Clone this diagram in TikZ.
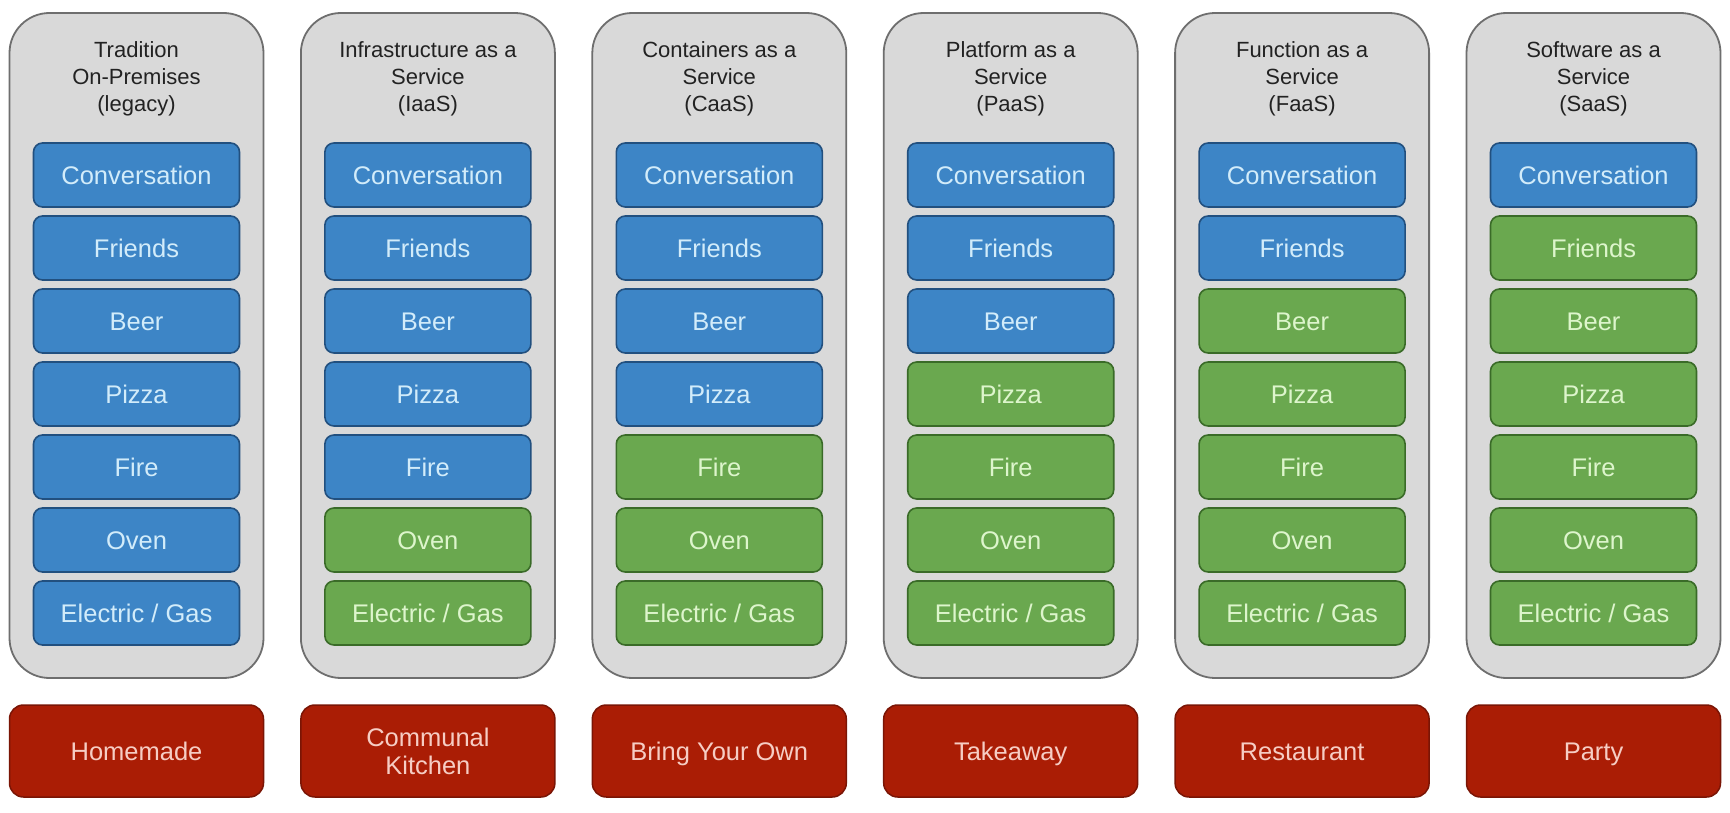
\documentclass[tikz,border=0pt]{standalone}
\usepackage{fontspec}
\setmainfont{Liberation Sans}
\definecolor{panelfill}{HTML}{D9D9D9}
\definecolor{panelline}{HTML}{6E6E6E}
\definecolor{bfill}{HTML}{3D85C6}
\definecolor{bline}{HTML}{22507F}
\definecolor{btext}{HTML}{D2ECFA}
\definecolor{gfill}{HTML}{6AA84F}
\definecolor{gline}{HTML}{3A6B28}
\definecolor{gtext}{HTML}{DDF5CC}
\definecolor{rfill}{HTML}{AA1D05}
\definecolor{rline}{HTML}{7A1505}
\definecolor{rtext}{HTML}{F6CDC4}
\definecolor{titletext}{HTML}{222222}
\begin{document}
\begin{tikzpicture}[x=1pt,y=-1pt,
  panel/.style={draw=panelline, fill=panelfill, line width=1.8pt, rounded corners=40pt,
    minimum width=254pt, minimum height=665pt, inner sep=0pt},
  layer/.style={rounded corners=9pt, line width=1.6pt, minimum width=206pt,
    minimum height=64pt, inner sep=0pt, text height=18.4pt, text depth=0pt,
    font=\fontsize{25.5}{30}\selectfont},
  model/.style={draw=rline, fill=rfill, text=rtext, line width=1.5pt, rounded corners=14pt,
    minimum width=254pt, minimum height=92pt, inner sep=0pt, align=center,
    font=\fontsize{25.5}{28}\selectfont},
  oneline/.style={text height=18.4pt, text depth=0pt},
  title/.style={align=center, text=titletext, inner sep=0pt, font=\fontsize{22}{27}\selectfont}]
\useasboundingbox (0,0) rectangle (1730,813);
\fill[white] (0,0) rectangle (1730,813);
\foreach \t/\r/\g/\n [count=\i from 0] in {
  {Tradition\\On-Premises\\(legacy)}/{Homemade}/0/1,
  {Infrastructure as a\\Service\\(IaaS)}/{Communal\\Kitchen}/2/2,
  {Containers as a\\Service\\(CaaS)}/{Bring Your Own}/3/1,
  {Platform as a\\Service\\(PaaS)}/{Takeaway}/4/1,
  {Function as a\\Service\\(FaaS)}/{Restaurant}/5/1,
  {Software as a\\Service\\(SaaS)}/{Party}/6/1}
{
  \pgfmathsetmacro\cx{136.5+291.4*\i}
  \node[panel] (p\i) at (\cx,345.5) {};
  \node[title] (t\i) at (\cx,79) {\t};
  \foreach \lab [count=\j] in {Conversation,Friends,Beer,Pizza,Fire,Oven,{Electric / Gas}}
  {
    \ifnum\j>\numexpr7-\g\relax \def\kind{g}\else\def\kind{b}\fi
    \node[layer, fill=\kind fill, draw=\kind line, text=\kind text] (b\i-\j)
      at (\cx,{175+73*(\j-1)}) {\lab};
  }
  \ifnum\n=1
    \node[model, oneline] (r\i) at (\cx,751) {\r};
  \else
    \node[model] (r\i) at (\cx,751) {\r};
  \fi
}
\end{tikzpicture}
\end{document}
